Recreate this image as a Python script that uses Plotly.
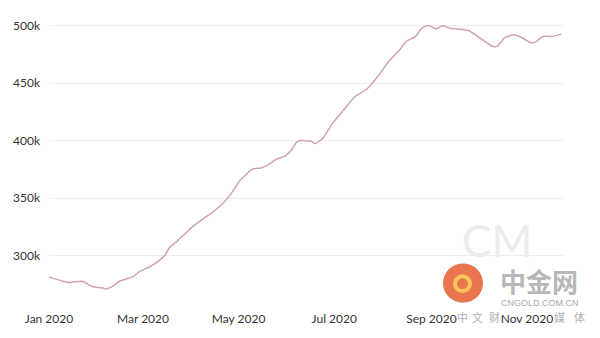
import plotly.graph_objects as go

# Weekly-ish readings of the series, Jan – Nov 2020
dates = [
    "2020-01-01", "2020-01-10", "2020-01-14", "2020-01-22", "2020-01-24", "2020-01-29",
    "2020-02-04", "2020-02-06", "2020-02-10", "2020-02-15", "2020-02-20", "2020-02-24",
    "2020-02-28", "2020-03-06", "2020-03-12", "2020-03-15", "2020-03-18", "2020-03-23",
    "2020-04-02", "2020-04-09", "2020-04-15", "2020-04-21", "2020-04-27", "2020-05-02",
    "2020-05-10", "2020-05-15", "2020-05-19", "2020-05-25", "2020-05-31", "2020-06-04",
    "2020-06-07", "2020-06-10", "2020-06-14", "2020-06-16", "2020-06-19", "2020-06-24",
    "2020-06-30", "2020-07-07", "2020-07-14", "2020-07-22", "2020-07-30", "2020-08-05",
    "2020-08-12", "2020-08-16", "2020-08-22", "2020-08-25", "2020-08-29", "2020-09-01",
    "2020-09-04", "2020-09-08", "2020-09-13", "2020-09-19", "2020-09-25", "2020-10-02",
    "2020-10-10", "2020-10-13", "2020-10-18", "2020-10-24", "2020-10-30", "2020-11-04",
    "2020-11-07", "2020-11-11", "2020-11-17", "2020-11-23",
]
values = [
    281300, 277600, 276500, 277600, 276500, 272700,
    271900, 270800, 272700, 277600, 279900, 281900,
    286200, 290700, 296400, 300000, 307100, 312700,
    325500, 332600, 338300, 345400, 355400, 365400,
    375300, 376200, 378200, 383800, 386800, 392400,
    398700, 400100, 399600, 399600, 397500, 402400,
    415200, 426600, 438000, 445100, 457900, 469300,
    479300, 486400, 490700, 496400, 500100, 499200,
    497300, 500100, 497900, 497000, 495600, 489300,
    482100, 482100, 489800, 492100, 488700, 485000,
    486400, 490700, 490700, 492700,
]

x_ticks = ["2020-01-01", "2020-03-01", "2020-05-01", "2020-07-01", "2020-09-01", "2020-11-01"]
x_tick_text = ["Jan 2020", "Mar 2020", "May 2020", "Jul 2020", "Sep 2020", "Nov 2020"]

LINE = "rgb(208,164,170)"
TICK_FONT = dict(family="Lato", size=12, color="#333333")

fig = go.Figure(
    go.Scatter(
        x=dates, y=values, mode="lines",
        line=dict(color=LINE, width=1.5, shape="spline", smoothing=0.6),
        hoverinfo="skip",
    )
)

fig.update_layout(
    width=600, height=338,
    margin=dict(l=49, r=37, t=20, b=38),
    paper_bgcolor="white", plot_bgcolor="white",
    showlegend=False,
    font=TICK_FONT,
    xaxis=dict(
        range=["2020-01-01", "2020-11-24"],
        tickvals=x_ticks, ticktext=x_tick_text,
        showgrid=False, zeroline=False, showline=False,
        ticks="", ticklabelstandoff=15, tickfont=TICK_FONT,
    ),
    yaxis=dict(
        range=[265600, 505000],
        tickvals=[300000, 350000, 400000, 450000, 500000],
        tickformat="~s",
        showgrid=True, gridcolor="#eeeeee", gridwidth=1,
        zeroline=False, showline=False,
        ticks="", ticklabelstandoff=8, tickfont=TICK_FONT,
    ),
)

# Site watermark in the lower-right corner
W, H, L, B = 514.0, 280.0, 49.0, 300.0


def px(x):
    return (x - L) / W


def py(y):
    return (B - y) / H


def mark(text, cx, cy, font):
    fig.add_annotation(x=px(cx), y=py(cy), xref="paper", yref="paper", text=text,
                       xanchor="center", yanchor="middle", showarrow=False, font=font)


mark("CM", 497, 244, dict(family="Lato", size=44, color="#ececec"))
fig.add_shape(type="circle", xref="paper", yref="paper",
              x0=px(443), x1=px(483), y0=py(308), y1=py(268),
              fillcolor="#e9764f", line=dict(width=0))
fig.add_shape(type="circle", xref="paper", yref="paper",
              x0=px(455), x1=px(470), y0=py(296), y1=py(281),
              fillcolor="rgba(0,0,0,0)", line=dict(color="#f7c55a", width=4))
mark("中金网", 539, 285, dict(family="Noto Sans CJK SC", size=26, color="#b8b8b8", weight="bold"))
mark("CNGOLD.COM.CN", 540, 308, dict(family="Liberation Sans", size=9, color="#aaaaaa"))
for ch, cx in zip(["中", "文", "财", "媒", "体"], [462, 477, 494, 559, 579]):
    mark(ch, cx, 322, dict(family="Noto Sans CJK SC", size=11, color="#b0b0b0"))

fig.write_html("out.html")
